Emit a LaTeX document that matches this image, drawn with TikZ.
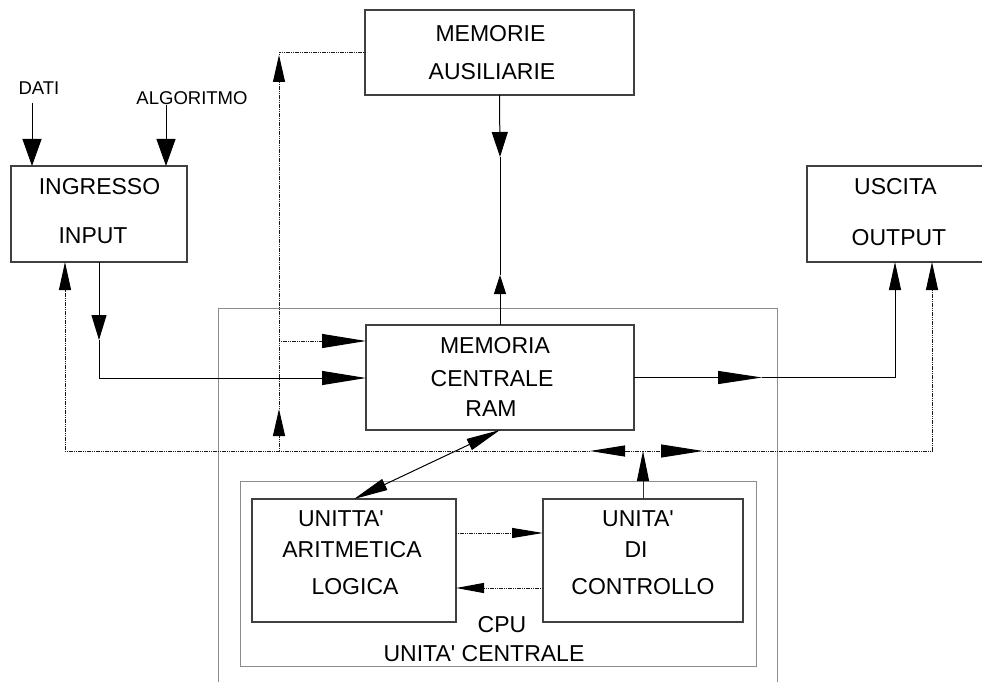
\documentclass[tikz,border=0pt]{standalone}
\usepackage{fontspec}
\newfontfamily\lsans{Liberation Sans}
\usetikzlibrary{arrows.meta}
\tikzset{
  box/.style={draw=black!75, line width=1.8pt, fill=none, inner sep=0pt, outer sep=0pt, rectangle},
  grayrect/.style={draw=black!45, line width=1pt, inner sep=0pt, outer sep=0pt, rectangle},
  lbl/.style={font=\lsans\fontsize{23}{26}\selectfont, inner sep=0pt},
  sm/.style={font=\lsans\fontsize{18.5}{22}\selectfont, inner sep=0pt},
  solidline/.style={line width=1pt, black},
  dotline/.style={line width=1pt, black!90, dash pattern=on 1.2pt off 0.6pt},
  tip/.style n args={2}{-{Triangle[length=#1pt, width=#2pt, color=black]}},
  tiptwo/.style n args={2}{{Triangle[length=#1pt, width=#2pt, color=black]}-{Triangle[length=#1pt, width=#2pt, color=black]}},
}
\begin{document}
\begin{tikzpicture}[x=1pt, y=-1pt]
\useasboundingbox (0,0) rectangle (982,682);

% containers
\node[grayrect, minimum width=559, minimum height=390] (cpuout) at (497.5,503) {};
\node[grayrect, minimum width=516, minimum height=185] (cpuin) at (498,573.5) {};

% boxes
\node[box, minimum width=176, minimum height=96] (ing) at (99,214) {};
\node[box, minimum width=183, minimum height=96] (out) at (898.5,214) {};
\node[box, minimum width=269, minimum height=85] (aux) at (499.5,52.5) {};
\node[box, minimum width=268, minimum height=105] (ram) at (500,377.5) {};
\node[box, minimum width=204, minimum height=123] (alu) at (354,560.5) {};
\node[box, minimum width=200, minimum height=123] (cu) at (643,560.5) {};

% texts
\node[sm] (dati) at (39,88) {DATI};
\node[sm] (algo) at (192,98) {ALGORITMO};
\node[lbl] (ting1) at (99.5,187) {INGRESSO};
\node[lbl] (ting2) at (93,235.5) {INPUT};
\node[lbl] (taux1) at (490.5,33.5) {MEMORIE};
\node[lbl] (taux2) at (492,71.5) {AUSILIARIE};
\node[lbl] (tout1) at (895.5,187) {USCITA};
\node[lbl] (tout2) at (899,237.5) {OUTPUT};
\node[lbl] (tram1) at (495,346) {MEMORIA};
\node[lbl] (tram2) at (492,379) {CENTRALE};
\node[lbl] (tram3) at (491,409) {RAM};
\node[lbl] (talu1) at (341,519) {UNITTA'};
\node[lbl] (talu2) at (352,550) {ARITMETICA};
\node[lbl] (talu3) at (355,586.5) {LOGICA};
\node[lbl] (tcu1) at (638,519) {UNITA'};
\node[lbl] (tcu2) at (636,550) {DI};
\node[lbl] (tcu3) at (643,586.5) {CONTROLLO};
\node[lbl] (tcpu1) at (502,625) {CPU};
\node[lbl] (tcpu2) at (484,653.5) {UNITA' CENTRALE};

% coordinates
\coordinate (datiS) at (32,103);
\coordinate (algoS) at (166,105);
\coordinate (p1) at (99,378);
\coordinate (p1a) at (99,340);
\coordinate (bl) at (65,451);
\coordinate (br) at (932,451);
\coordinate (bv) at (279,451);
\coordinate (bc) at (643,451);
\coordinate (bla) at (590,451);
\coordinate (bra) at (703,451);
\coordinate (va) at (279,409);
\coordinate (vb) at (279,55);
\coordinate (bz) at (279,341);
\coordinate (mo) at (762,377.5);
\coordinate (p2) at (895,377.5);
\coordinate (ua) at (500,157);
\coordinate (ub) at (500,275);

% inputs
\draw[solidline, tip={27}{19}] (datiS) -- (datiS |- ing.north);
\draw[solidline, tip={27}{19}] (algoS) -- (algoS |- ing.north);

% ingresso -> memoria centrale
\draw[solidline, tip={25}{15}] (ing.south -| p1) -- (p1a);
\draw[solidline, tip={44}{14}] (p1a) -- (p1) -- (ram.west |- p1);

% memorie ausiliarie <-> memoria centrale
\draw[solidline, tip={25}{16}] (aux.south) -- (ua);
\draw[solidline] (ua) -- (ub);
\draw[solidline, tip={19}{12}] (ram.north) -- (ub);

% vertical bus at x=279
\draw[dotline, tip={27}{12}] (bv) -- (va);
\draw[dotline, tip={27}{12}] (va) -- (vb);
\draw[dotline] (vb) -- (vb |- aux.west) -- (aux.west);
\draw[dotline, tip={44}{14}] (bz) -- (ram.west |- bz);

% bottom bus
\draw[dotline, tip={35}{11}] (bc) -- (bla);
\draw[dotline, tip={28}{12}] (bla) -- (bl) -- (ing.south -| bl);
\draw[dotline, tip={42}{13}] (bc) -- (bra);
\draw[dotline, tip={28}{12}] (bra) -- (br) -- (out.south -| br);

% control unit -> bus
\draw[line width=1pt, black!80, tip={30}{12}] (cu.north) -- (bc);

% memoria centrale -> output
\draw[solidline, tip={44}{13}] (ram.east) -- (mo);
\draw[solidline, tip={28}{12}] (mo) -- (p2) -- (out.south -| p2);

% memoria centrale <-> ALU
\draw[solidline, tiptwo={34}{12}] (ram.south) -- (alu.north);

% ALU <-> control unit
\draw[dotline, tip={31}{10}] ([yshift=27.5pt]alu.east) -- ([yshift=27.5pt]alu.east -| cu.west);
\draw[dotline, tip={28}{10}] ([yshift=-27.5pt]cu.west) -- ([yshift=-27.5pt]cu.west -| alu.east);
\end{tikzpicture}
\end{document}
